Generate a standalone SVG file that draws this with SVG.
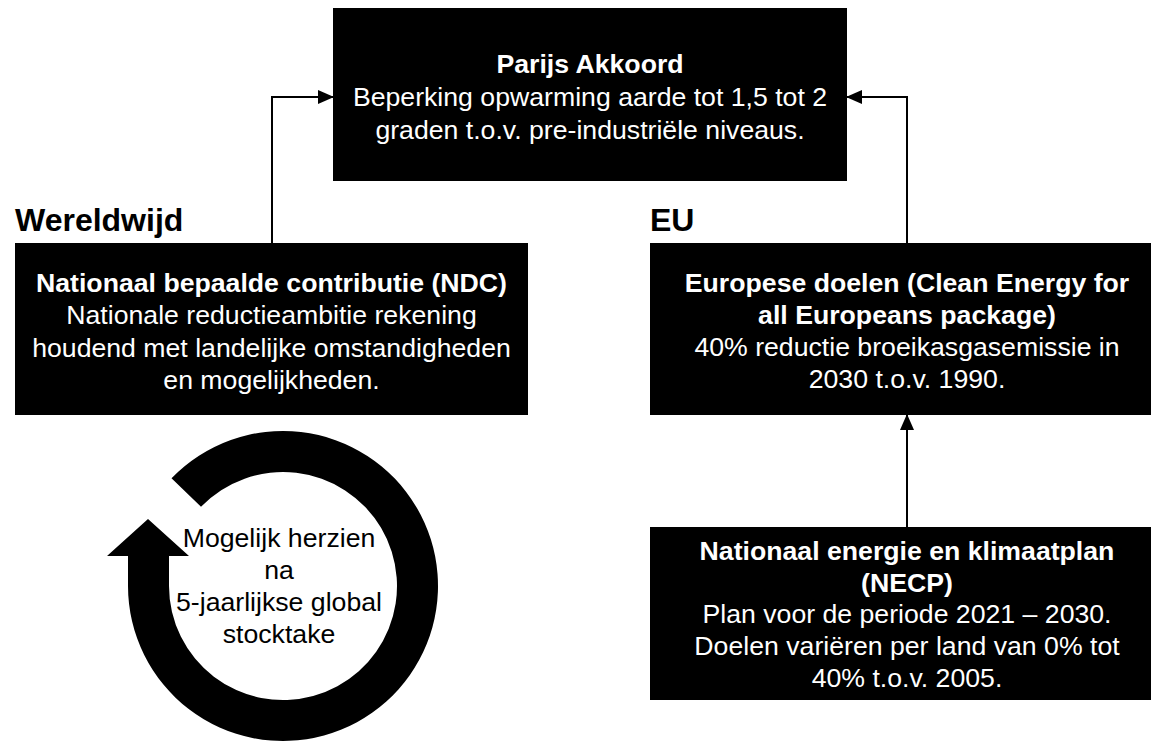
<svg xmlns="http://www.w3.org/2000/svg" width="1151" height="741" viewBox="0 0 1151 741">
<defs>
<style>
.box{fill:#000}
.t{font-family:"Liberation Sans",Arial,sans-serif;font-size:26.67px;fill:#fff;text-anchor:middle}
.b{font-weight:bold}
.h{font-family:"Liberation Sans",Arial,sans-serif;font-size:32px;font-weight:bold;fill:#000}
.c{font-family:"Liberation Sans",Arial,sans-serif;font-size:26.67px;fill:#000;text-anchor:middle}
.conn{fill:none;stroke:#000;stroke-width:2}
</style>
<marker id="ah" markerUnits="userSpaceOnUse" markerWidth="16" markerHeight="14" refX="15" refY="7" orient="auto">
<path d="M0,0 L16,7 L0,14 Z" fill="#000"/>
</marker>
</defs>
<rect width="1151" height="741" fill="#fff"/>
<g id="parijs">
<rect class="box" x="333" y="8" width="514" height="173"/>
<text class="t b" x="590" y="73">Parijs Akkoord</text>
<text class="t" x="590" y="106">Beperking opwarming aarde tot 1,5 tot 2</text>
<text class="t" x="590" y="139">graden t.o.v. pre-industriële niveaus.</text>
</g>
<g id="label-wereldwijd"><text class="h" x="15" y="231">Wereldwijd</text></g>
<g id="label-eu"><text class="h" x="650" y="231">EU</text></g>
<g id="ndc">
<rect class="box" x="15" y="243" width="513" height="172"/>
<text class="t b" x="271.5" y="292">Nationaal bepaalde contributie (NDC)</text>
<text class="t" x="271.5" y="324">Nationale reductieambitie rekening</text>
<text class="t" x="271.5" y="357">houdend met landelijke omstandigheden</text>
<text class="t" x="271.5" y="389">en mogelijkheden.</text>
</g>
<g id="eu-doelen">
<rect class="box" x="650" y="243" width="514" height="172"/>
<text class="t b" x="907" y="292">Europese doelen (Clean Energy for</text>
<text class="t b" x="907" y="324">all Europeans package)</text>
<text class="t" x="907" y="356">40% reductie broeikasgasemissie in</text>
<text class="t" x="907" y="388">2030 t.o.v. 1990.</text>
</g>
<g id="necp">
<rect class="box" x="650" y="527" width="514" height="173"/>
<text class="t b" x="907" y="560">Nationaal energie en klimaatplan</text>
<text class="t b" x="907" y="592">(NECP)</text>
<text class="t" x="907" y="623">Plan voor de periode 2021 – 2030.</text>
<text class="t" x="907" y="655">Doelen variëren per land van 0% tot</text>
<text class="t" x="907" y="687">40% t.o.v. 2005.</text>
</g>
<g id="cycle">
<path d="M171.5,478.3 A155,155 0 1 1 128,586 L128,556 L107,556 L148,519 L189,556 L169,556 L169,586 A114,114 0 1 0 201,506.8 Z" fill="#000"/>
<text class="c" x="279" y="547">Mogelijk herzien</text>
<text class="c" x="279" y="579">na</text>
<text class="c" x="279" y="611">5-jaarlijkse global</text>
<text class="c" x="279" y="643">stocktake</text>
</g>
<g id="connectors">
<path class="conn" d="M272,243 L272,97 L333,97" marker-end="url(#ah)"/>
<path class="conn" d="M907,243 L907,97 L847,97" marker-end="url(#ah)"/>
<path class="conn" d="M907,527 L907,415" marker-end="url(#ah)"/>
</g>
</svg>
